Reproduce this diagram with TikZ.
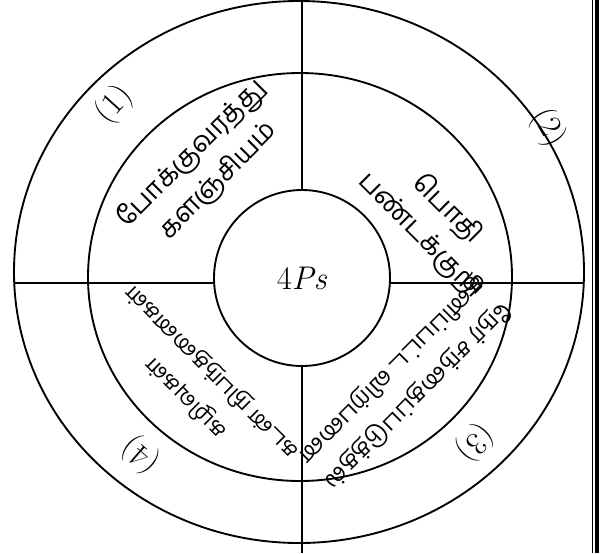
\documentclass[tikz,border=0pt]{standalone}
\usepackage{fontspec}
\newfontfamily\tamilfont[Script=Tamil]{Hind Madurai}

\begin{document}
\begin{tikzpicture}[x=0.03cm, y=-0.03cm, every node/.style={inner sep=0pt}]

    \tikzstyle{ring}=[draw, line width=1.6pt]
    \tikzstyle{divider}=[draw, line width=1.2pt]
    \tikzstyle{quarter}=[align=center, font=\tamilfont\fontsize{23}{32}\selectfont]
    \tikzstyle{smallquarter}=[align=center, font=\tamilfont\fontsize{20}{31}\selectfont]
    \tikzstyle{tag}=[font=\fontsize{28}{32}\selectfont]

    \useasboundingbox (0,0) rectangle (601,553);

    % --- Rings ---
    \draw[ring] (299,272) ellipse [x radius=285, y radius=271];
    \draw[ring] (300,277) ellipse [x radius=212, y radius=204];
    \node[ring, circle, minimum size=5.28cm, tag] (core) at (302,278) {4\textit{Ps}};

    % --- Dividers ---
    \coordinate (top) at (302,0);
    \coordinate (bottom) at (302,553);
    \coordinate (left) at (14,283);
    \coordinate (right) at (584,283);
    \draw[divider] (top) -- (core.north);
    \draw[divider] (core.south) -- (bottom);
    \draw[divider] (left) -- (left -| core.west);
    \draw[divider] (right -| core.east) -- (right);

    % --- Quarter texts ---
    \node[quarter, rotate=45] (place) at (205,167) {போக்குவரத்து\\களஞ்சியம்};
    \node[quarter, rotate=-45] (product) at (434,222) {பொதி\\பண்டக்குறி};
    \node[smallquarter, rotate=-135] (promo) at (405,383) {நேர் சந்தைப்படுத்தல்\\தனிப்பட்ட விற்பனை};
    \node[smallquarter, rotate=135, font=\tamilfont\fontsize{19}{31}\selectfont] (price) at (199,385) {கழிவுகள்\\கடன் நிபந்தனைகள்};

    % --- Numbers ---
    \node[tag, rotate=48] (n1) at (114,105) {(1)};
    \node[tag, rotate=-60] (n2) at (548,128) {(2)};
    \node[tag, rotate=-134] (n3) at (475,443) {(3)};
    \node[tag, rotate=139] (n4) at (141,455) {(4)};

    % --- Right edge ---
    \draw[line width=1.3pt] (592.5,0) -- (592.5,553);
    \draw[line width=3.8pt] (597,0) -- (597,553);

\end{tikzpicture}
\end{document}
